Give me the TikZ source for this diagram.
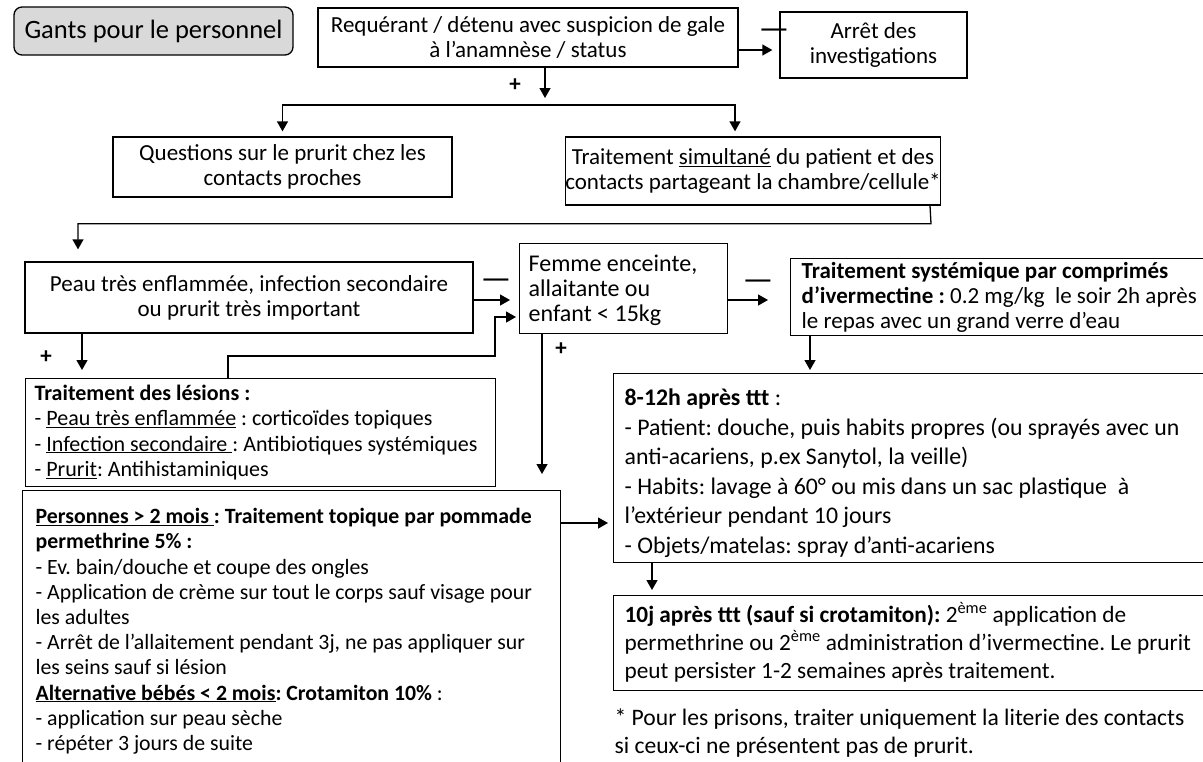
\documentclass[tikz,border=0pt]{standalone}
\usepackage{fontspec}
\setmainfont{Carlito}
\usetikzlibrary{arrows.meta,positioning,calc}
\frenchspacing
\newcommand{\txtsize}{\fontsize{23}{25}\selectfont}
\newcommand{\smallsize}{\fontsize{21.8}{25.2}\selectfont}
\newcommand{\wideskip}{\fontsize{23.8}{29.5}\selectfont}
\newcommand{\midskip}{\fontsize{23.3}{28}\selectfont}
\newcommand{\tstrut}[1]{\rule{0pt}{#1pt}}
\newcommand{\bstrut}[1]{\rule[-#1pt]{0pt}{0pt}}
\tikzstyle{box}=[draw,line width=1.3pt,inner sep=0pt,align=center,font=\txtsize]
\tikzstyle{lbox}=[draw,line width=1.3pt,inner xsep=11pt,inner ysep=0pt,align=flush left,anchor=north west,font=\txtsize]
\tikzstyle{arr}=[-{Triangle[length=10pt,width=11pt]},line width=1.3pt]
\tikzstyle{sign}=[font=\txtsize\bfseries,inner sep=0pt]
\tikzstyle{minus}=[font=\fontsize{34}{34}\selectfont,inner sep=0pt]

\begin{document}
\begin{tikzpicture}[x=1pt,y=-1pt]
	\useasboundingbox (0,0) rectangle (1203,761);
%
	\node[box,rounded corners=8pt,fill=gray!30,minimum width=279pt,minimum height=48pt,font=\fontsize{26.5}{30}\selectfont] (gants) at (153.5,31) {Gants pour le personnel};
	\node[box,minimum width=420pt,minimum height=59pt] (req) at (528,37.5) {Requérant / détenu avec suspicion de gale\\à l’anamnèse / status};
	\node[box,minimum width=187pt,minimum height=66pt] (arret) at (873.5,45) {Arrêt des\\investigations};
	\node[minus] (neg1) at (774,34) {—};
	\draw[arr,shorten >=7pt] ([yshift=-12.5pt]req.east) -- ([yshift=-12.5pt]req.east -| arret.west);
%
	\coordinate (split) at (545,105);
	\node[sign] (pos1) at (515,85) {+};
	\draw[arr] (req.south -| split) -- ([yshift=7pt]split);
	\node[box,minimum width=339pt,minimum height=60pt] (quest) at (282.5,167) {Questions sur le prurit chez les\\contacts proches};
	\node[box,minimum width=375pt,minimum height=68pt] (simul) at (753,171) {Traitement \underline{simultané} du patient et des\\contacts partageant la chambre/cellule*};
	\draw[arr,shorten >=5pt] (split) -| (quest.north);
	\draw[arr,shorten >=5pt] (split) -| ([xshift=-18pt]simul.north);
%
	\node[box,minimum width=448pt,minimum height=71pt] (peau) at (249,297.5) {Peau très enflammée, infection secondaire\\ou prurit très important};
	\draw[arr,shorten >=12pt] ([xshift=177pt]simul.south) -- ++(1,18) -| ([xshift=-171pt]peau.north);
	\node[lbox,text width=190pt,inner xsep=9pt,font=\fontsize{24}{25}\selectfont] (femme) at (519,243) {\tstrut{28}Femme enceinte,\\allaitante ou\\enfant < 15kg\bstrut{12}};
	\node[lbox,text width=420pt] (syst) at (790,258) {\tstrut{20}\textbf{Traitement systémique par comprimés}\\\textbf{d’ivermectine :} 0.2 mg/kg~~le soir 2h après\\le repas avec un grand verre d’eau\bstrut{7}};
	\node[minus] (neg2) at (496,284) {—};
	\draw[arr,shorten >=9pt] ([yshift=-2.5pt]peau.east) -- ([yshift=-2.5pt]peau.east -| femme.west);
	\node[minus] (neg3) at (758,285) {—};
	\draw[arr,shorten >=22pt] ([yshift=-57pt]femme.north east) -- ([yshift=-57pt]femme.north east -| syst.west);
%
	\node[lbox,text width=452pt,inner xsep=9pt,font=\fontsize{22}{25.2}\selectfont] (lesions) at (25,378) {\tstrut{22}\textbf{Traitement des lésions :}\\- \underline{Peau très enflammée} : corticoïdes topiques\\- \underline{Infection secondaire }: Antibiotiques systémiques\\- \underline{Prurit}: Antihistaminiques\bstrut{10}};
	\node[sign] (pos2) at (46,357) {+};
	\draw[arr,shorten >=8pt] ([xshift=-167pt]peau.south) -- ([xshift=-167pt]peau.south |- lesions.north);
	\draw[arr,shorten >=3pt] ([xshift=203pt]lesions.north west) -- ++(0,-22) -- ++(267,0) |- ([yshift=-74pt]femme.north west);
%
	\node[lbox,text width=512pt,inner xsep=13pt,font=\smallsize] (pers) at (22,490) {\tstrut{33}\textbf{\underline{Personnes > 2 mois }: Traitement topique par pommade}\\\textbf{permethrine 5\% :}\\- Ev. bain/douche et coupe des ongles\\- Application de crème sur tout le corps sauf visage pour\\les adultes\\- Arrêt de l’allaitement pendant 3j, ne pas appliquer sur\\les seins sauf si lésion\\\textbf{\underline{Alternative bébés < 2 mois}: Crotamiton 10\%} :\\- application sur peau sèche\\- répéter 3 jours de suite\bstrut{30}};
	\node[sign] (pos3) at (561,349) {+};
	\draw[arr,shorten >=16pt] ([xshift=23pt]femme.south west) -- ([xshift=23pt]femme.south west |- pers.north);
%
	\node[lbox,text width=590pt,font=\wideskip] (apres) at (613,373) {\tstrut{32}\textbf{8-12h après ttt} :\\- Patient: douche, puis habits propres (ou sprayés avec un\\anti-acariens, p.ex Sanytol, la veille)\\- Habits: lavage à 60° ou mis dans un sac plastique~~à\\l’extérieur pendant 10 jours\\- Objets/matelas: spray d’anti-acariens\bstrut{9}};
	\draw[arr,shorten >=3pt] ([xshift=20pt]syst.south west) -- ([xshift=20pt]syst.south west |- apres.north);
	\draw[arr,shorten >=5pt] ([yshift=-33pt]pers.north east) -- ([yshift=-33pt]pers.north east -| apres.west);
	\node[lbox,text width=590pt,font=\midskip] (dixj) at (613,595) {\tstrut{27}\textbf{10j après ttt (sauf si crotamiton):} 2\textsuperscript{ème} application de\\permethrine ou 2\textsuperscript{ème} administration d’ivermectine. Le prurit\\peut persister 1-2 semaines après traitement.\bstrut{12}};
	\draw[arr,shorten >=5pt] ([xshift=39pt]apres.south west) -- ([xshift=39pt]apres.south west |- dixj.north);
	\node[lbox,draw=none,text width=590pt,font=\fontsize{23.6}{28}\selectfont] (note) at (603,700) {\tstrut{25}* Pour les prisons, traiter uniquement la literie des contacts\\si ceux-ci ne présentent pas de prurit.};
\end{tikzpicture}
\end{document}
